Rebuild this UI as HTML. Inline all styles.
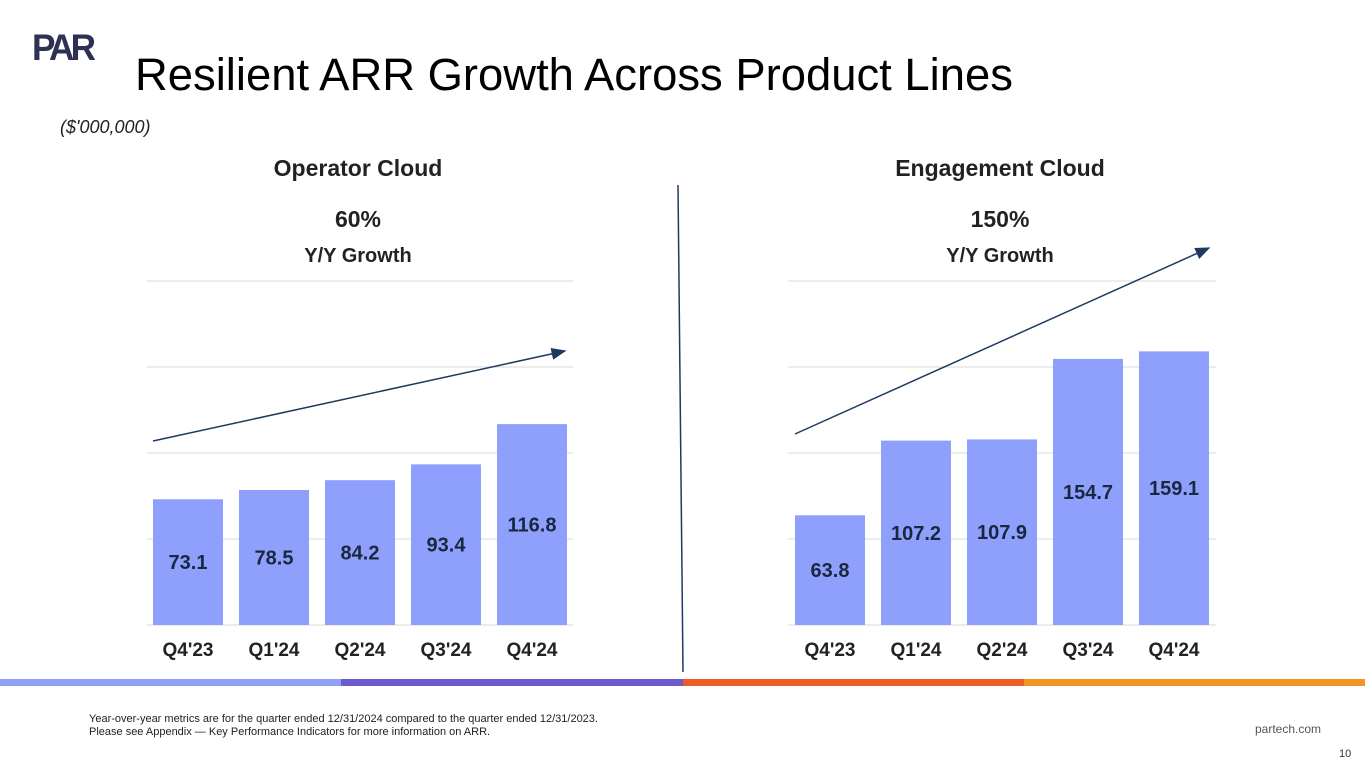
<!DOCTYPE html>
<html><head><meta charset="utf-8"><style>
body{margin:0;width:1365px;height:768px;overflow:hidden;background:#fff;font-family:"Liberation Sans",Arial,sans-serif;position:relative}
.t{position:absolute;white-space:nowrap}
</style></head><body>
<div class="t" style="left:32px;top:27px;font-size:37px;font-weight:900;color:#2d3154;letter-spacing:-4px;transform:scaleX(0.95);transform-origin:left">PAR</div>
<div class="t" style="left:135px;top:49px;font-size:45.4px;color:#000">Resilient ARR Growth Across Product Lines</div>
<div class="t" style="left:60px;top:117px;font-size:18px;font-style:italic;color:#222">($'000,000)</div>
<svg width="1365" height="768" style="position:absolute;left:0;top:0" id="svg">
<defs><marker id="ah" markerWidth="10" markerHeight="8" refX="9" refY="4" orient="auto"><path d="M0,0L10,4L0,8z" fill="#1e3a5f"/></marker></defs>
<line x1="678" y1="185" x2="683" y2="672" stroke="#1e3a5f" stroke-width="1.5"/>
<rect x="0" y="679" width="341" height="7" fill="#8fa0f8"/>
<rect x="341" y="679" width="342" height="7" fill="#6a5acd"/>
<rect x="683" y="679" width="341" height="7" fill="#f05a28"/>
<rect x="1024" y="679" width="341" height="7" fill="#f39324"/>
</svg>
<div class="t" style="left:89px;top:713px;font-size:11px;color:#222;line-height:13px">Year-over-year metrics are for the quarter ended 12/31/2024 compared to the quarter ended 12/31/2023.<br>Please see Appendix — Key Performance Indicators for more information on ARR.</div>
<div class="t" style="left:1255px;top:722px;font-size:12px;color:#555">partech.com</div>
<div class="t" style="left:1339px;top:748px;font-size:11px;color:#333">10</div>
<script>
const categories=["Q4'23","Q1'24","Q2'24","Q3'24","Q4'24"];
const operatorValues=[73.1,78.5,84.2,93.4,116.8];
const engagementValues=[63.8,107.2,107.9,154.7,159.1];
const yTicks=[0,50,100,150,200];
const charts=[
 {name:"operator",title:"Operator Cloud",growth:"60%",vals:operatorValues,x0:147,x1:573,bx:153,arrow:[153,441,565,351]},
 {name:"engagement",title:"Engagement Cloud",growth:"150%",vals:engagementValues,x0:788,x1:1216,bx:795,arrow:[795,434,1209,248]}
];
const svg=document.getElementById('svg');
const NS='http://www.w3.org/2000/svg';
const base=625,scale=344/200;
const y=v=>base-v*scale;
function mk(tag,attrs){const e=document.createElementNS(NS,tag);for(const k in attrs)e.setAttribute(k,attrs[k]);svg.appendChild(e);return e;}
charts.forEach(c=>{
 const cx=(c.x0+c.x1)/2;
 yTicks.forEach(t=>{const g=mk('line',{x1:c.x0,x2:c.x1,y1:y(t),y2:y(t),stroke:'#d9d9d9','stroke-width':1});
  
  });
 c.vals.forEach((v,i)=>{
  const x=c.bx+i*86;
  const r=mk('rect',{x:x,y:y(v),width:70,height:v*scale,fill:'#8fa0fc'});
  
  
  const tl=mk('text',{x:x+35,y:(y(v)+base)/2+7,'text-anchor':'middle','font-size':20,'font-weight':'bold',fill:'#1a2740'});
  tl.textContent=v.toFixed(1);
  
  
  const cl=mk('text',{x:x+35,y:656,'text-anchor':'middle','font-size':19,'font-weight':'bold',fill:'#222'});
  cl.textContent=categories[i];
  
  
 });
 const tt=mk('text',{x:cx-2,y:176,'text-anchor':'middle','font-size':23,'font-weight':'bold',fill:'#222'});
 tt.textContent=c.title;
 
 
 const g1=mk('text',{x:cx-2,y:227,'text-anchor':'middle','font-size':23,'font-weight':'bold',fill:'#222'});
 g1.textContent=c.growth;
 
 
 const g2=mk('text',{x:cx-2,y:262,'text-anchor':'middle','font-size':20,'font-weight':'bold',fill:'#222'});
 g2.textContent='Y/Y Growth';
 
 
 const a=c.arrow;
 const ar=mk('line',{x1:a[0],y1:a[1],x2:a[2],y2:a[3],stroke:'#1e3a5f','stroke-width':1.5,'marker-end':'url(#ah)'});
 
 
});
</script>
</body></html>
